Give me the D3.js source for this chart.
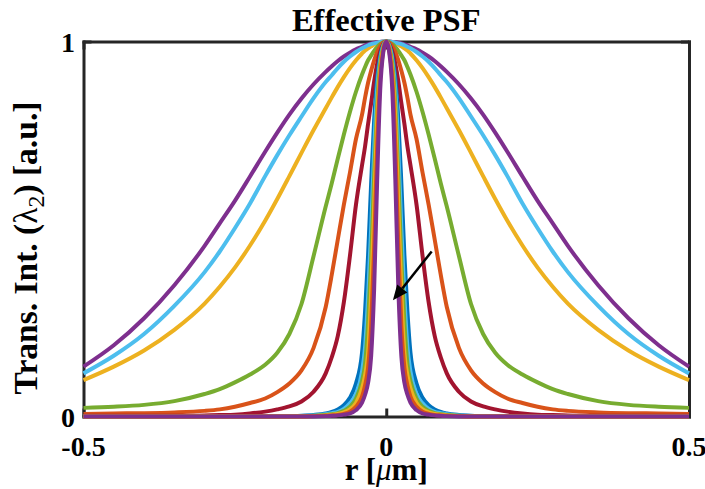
<!DOCTYPE html>
<html>
<head>
<meta charset="utf-8">
<script src="https://cdn.jsdelivr.net/npm/d3@7"></script>
<style>
  html, body { margin: 0; padding: 0; background: #fff; }
  svg { display: block; }
  text { font-family: "Liberation Serif", "Times New Roman", serif; font-weight: bold; fill: #000; }
</style>
</head>
<body>
<svg id="chart" width="705" height="489"></svg>
<script>
// radial positions (µm) of the half profile; each curve is symmetric about r = 0
const radius = [0, .005, .01, .015, .02, .025, .03, .035, .04, .05, .06, .07, .08, .09, .1,
                .12, .14, .16, .18, .2, .225, .25, .275, .3, .35, .4, .45, .5];

// normalised transmitted intensity, one array per PSF
const purpleWide    = [1, 1, .999, .998, .997, .995, .992, .99, .986, .979, .97, .96, .948, .934, .919,
                       .886, .848, .805, .757, .706, .64, .575, .515, .455, .35, .262, .19, .133];
const yellowWide    = [1, .9995, .998, .995, .992, .987, .982, .976, .968, .95, .929, .905, .879, .851, .822,
                       .764, .703, .641, .58, .522, .456, .397, .346, .301, .231, .176, .133, .097];
const lightBlueWide = [1, .9997, .999, .997, .995, .993, .99, .986, .982, .972, .96, .946, .929, .91, .892,
                       .849, .8, .75, .697, .641, .568, .502, .44, .385, .295, .22, .162, .115];
const greenWide     = [1, .998, .993, .985, .975, .963, .95, .932, .912, .866, .812, .752, .688, .622, .56,
                       .428, .3, .22, .17, .138, .112, .091, .073, .06, .041, .031, .026, .023];
const orangeWide    = [1, .997, .988, .972, .95, .922, .89, .85, .805, .74, .65, .565, .472, .378, .292,
                       .183, .123, .088, .065, .048, .036, .026, .019, .015, .011, .009, .008, .007];
const darkRed       = [1, .992, .973, .94, .893, .835, .78, .72, .67, .565, .428, .305, .215, .158, .115,
                       .066, .04, .027, .019, .013, .008, .005, .004, .003, .002, .002, .002, .002];
const blueNarrow    = [1, .99, .96, .9, .79, .62, .43, .28, .17, .088, .05, .03, .019, .012, .008,
                       .004, .002, .001, .001, 0, 0, 0, 0, 0, 0, 0, 0, 0];
const lightBlueNarrow = [1, .988, .95, .87, .71, .5, .32, .185, .12, .06, .035, .02, .012, .009, .006,
                       .003, .001, 0, 0, 0, 0, 0, 0, 0, 0, 0, 0, 0];
const greenNarrow   = [1, .985, .94, .83, .64, .415, .25, .14, .095, .048, .026, .015, .009, .006, .004,
                       .002, .001, 0, 0, 0, 0, 0, 0, 0, 0, 0, 0, 0];
const yellowNarrow  = [1, .98, .92, .79, .56, .33, .17, .11, .075, .036, .019, .011, .007, .005, .003,
                       .001, 0, 0, 0, 0, 0, 0, 0, 0, 0, 0, 0, 0];
const orangeNarrow  = [1, .975, .9, .72, .45, .24, .13, .083, .053, .026, .013, .007, .004, .003, .002,
                       .001, 0, 0, 0, 0, 0, 0, 0, 0, 0, 0, 0, 0];
const purpleNarrow  = [1, .97, .87, .63, .34, .16, .09, .058, .037, .017, .008, .005, .003, .002, .001,
                       0, 0, 0, 0, 0, 0, 0, 0, 0, 0, 0, 0, 0];

// drawing order (later curves sit on top)
const seriesList = [
  { values: purpleWide,      color: "#7E2F8E" },
  { values: yellowWide,      color: "#EDB120" },
  { values: lightBlueWide,   color: "#4DBEEE" },
  { values: greenWide,       color: "#77AC30" },
  { values: orangeWide,      color: "#D95319" },
  { values: darkRed,         color: "#A2142F" },
  { values: blueNarrow,      color: "#0072BD" },
  { values: lightBlueNarrow, color: "#4DBEEE" },
  { values: greenNarrow,     color: "#77AC30" },
  { values: yellowNarrow,    color: "#EDB120" },
  { values: orangeNarrow,    color: "#D95319" },
  { values: purpleNarrow,    color: "#7E2F8E" }
];

const xTicks = [-0.5, 0, 0.5];
const xTickLabels = ["-0.5", "0", "0.5"];
const yTicks = [0, 1];
const yTickLabels = ["0", "1"];

// arrow marking the trend of the curves (data units)
const arrowFrom = [0.075, 0.44];
const arrowTo = [0.011, 0.31];

const W = 705, H = 489;
const margin = { left: 83.5, right: 16, top: 41.5, bottom: 72.5 };
const svg = d3.select("#chart");

const x = d3.scaleLinear().domain([-0.5, 0.5]).range([margin.left, W - margin.right]);
const y = d3.scaleLinear().domain([0, 1]).range([H - margin.bottom, margin.top]);

const axisColor = "#262626";
const axisWidth = 3;

// axes (drawn under the data)
const gx = svg.append("g").attr("transform", `translate(0,${y(0)})`)
  .call(d3.axisBottom(x).tickValues(xTicks).tickFormat("").tickSizeInner(-8).tickSizeOuter(0));
const gy = svg.append("g").attr("transform", `translate(${x(-0.5)},0)`)
  .call(d3.axisLeft(y).tickValues(yTicks).tickFormat("").tickSizeInner(-8).tickSizeOuter(0));
const gyr = svg.append("g").attr("transform", `translate(${x(0.5)},0)`)
  .call(d3.axisRight(y).tickValues(yTicks).tickFormat("").tickSizeInner(-8).tickSizeOuter(0));
const gxt = svg.append("g").attr("transform", `translate(0,${y(1)})`)
  .call(d3.axisTop(x).tickValues(xTicks).tickFormat("").tickSizeInner(-8).tickSizeOuter(0));
[gx, gy, gyr, gxt].forEach(g => {
  g.selectAll("path.domain").attr("stroke", axisColor).attr("stroke-width", axisWidth);
  g.selectAll(".tick line").attr("stroke", axisColor).attr("stroke-width", axisWidth);
});
svg.selectAll("path.domain").attr("stroke-linecap", "square");

// curves
const line = d3.line()
  .x(d => x(d[0]))
  .y(d => y(d[1]))
  .curve(d3.curveMonotoneX);

function profile(values) {
  const left = radius.slice(1).map((r, i) => [-r, values[i + 1]]).reverse();
  const right = radius.map((r, i) => [r, values[i]]);
  return left.concat(right);
}

svg.append("g").selectAll("path.psf")
  .data(seriesList)
  .join("path")
  .attr("class", "psf")
  .attr("d", d => line(profile(d.values)))
  .attr("fill", "none")
  .attr("stroke", d => d.color)
  .attr("stroke-width", 4)
  .attr("stroke-linejoin", "round");

// arrow
const ax0 = x(arrowFrom[0]), ay0 = y(arrowFrom[1]);
const ax1 = x(arrowTo[0]), ay1 = y(arrowTo[1]);
const ang = Math.atan2(ay1 - ay0, ax1 - ax0);
const headLen = 15, headHalf = 6.5;
const bx = ax1 - headLen * Math.cos(ang), by = ay1 - headLen * Math.sin(ang);
svg.append("line")
  .attr("x1", ax0).attr("y1", ay0).attr("x2", bx).attr("y2", by)
  .attr("stroke", "#000").attr("stroke-width", 2.5);
svg.append("path")
  .attr("d", `M${ax1},${ay1}L${bx + headHalf * Math.sin(ang)},${by - headHalf * Math.cos(ang)}` +
             `L${bx - headHalf * Math.sin(ang)},${by + headHalf * Math.cos(ang)}Z`)
  .attr("fill", "#000");

// tick labels
svg.append("g").selectAll("text")
  .data(xTicks)
  .join("text")
  .attr("x", d => x(d))
  .attr("y", 456)
  .attr("text-anchor", "middle")
  .style("font-size", "28px")
  .text((d, i) => xTickLabels[i]);

svg.append("g").selectAll("text")
  .data(yTicks)
  .join("text")
  .attr("x", 75)
  .attr("y", d => y(d) + 10)
  .attr("text-anchor", "end")
  .style("font-size", "28px")
  .text((d, i) => yTickLabels[i]);

// title
svg.append("text")
  .attr("x", x(0)).attr("y", 31)
  .attr("text-anchor", "middle")
  .style("font-size", "32.5px")
  .text("Effective PSF");

// x label
const xl = svg.append("text")
  .attr("x", x(0)).attr("y", 480)
  .attr("text-anchor", "middle")
  .style("font-size", "31px");
xl.append("tspan").text("r [");
xl.append("tspan").style("font-style", "italic").style("font-weight", "normal").text("\u03BC");
xl.append("tspan").text("m]");

// y label
const yl = svg.append("text")
  .attr("transform", `translate(37,248) rotate(-90)`)
  .attr("text-anchor", "middle")
  .style("font-size", "33.5px");
yl.append("tspan").text("Trans. Int. (");
yl.append("tspan").style("font-weight", "normal").text("\u03BB");
yl.append("tspan").attr("dy", 7).style("font-size", "24px").style("font-weight", "normal").text("2");
yl.append("tspan").attr("dy", -7).text(") [a.u.]");
</script>
</body>
</html>
